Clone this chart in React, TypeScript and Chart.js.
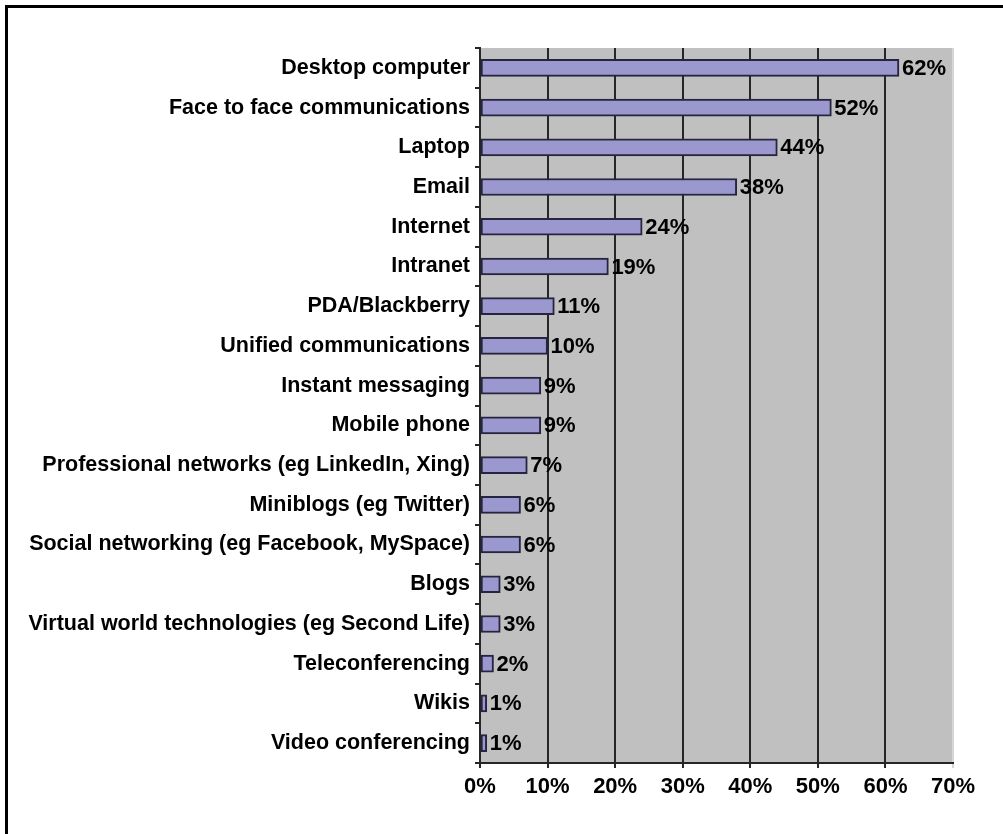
import React, { useEffect, useRef } from "react";
import { Chart, registerables } from "chart.js";

Chart.register(...registerables);

const categories = [
  "Desktop computer",
  "Face to face communications",
  "Laptop",
  "Email",
  "Internet",
  "Intranet",
  "PDA/Blackberry",
  "Unified communications",
  "Instant messaging",
  "Mobile phone",
  "Professional networks (eg LinkedIn, Xing)",
  "Miniblogs (eg Twitter)",
  "Social networking (eg Facebook, MySpace)",
  "Blogs",
  "Virtual world technologies (eg Second Life)",
  "Teleconferencing",
  "Wikis",
  "Video conferencing",
];

const values = [62, 52, 44, 38, 24, 19, 11, 10, 9, 9, 7, 6, 6, 3, 3, 2, 1, 1];

const xTicks = [0, 10, 20, 30, 40, 50, 60, 70];

const FONT = "'Liberation Sans', Arial, Helvetica, sans-serif";

const backgroundPlugin = {
  id: "bgFrame",
  beforeDraw(chart: any) {
    const { ctx, chartArea } = chart;
    ctx.save();
    ctx.fillStyle = "#ffffff";
    ctx.fillRect(0, 0, chart.width, chart.height);
    ctx.fillStyle = "#000000";
    ctx.fillRect(5, 5, chart.width - 5, 3);
    ctx.fillRect(5, 5, 3, chart.height - 5);
    ctx.fillStyle = "#c0c0c0";
    ctx.fillRect(
      chartArea.left,
      chartArea.top,
      chartArea.right - chartArea.left,
      chartArea.bottom - chartArea.top
    );
    ctx.restore();
  },
};

const valueLabelPlugin = {
  id: "valueLabels",
  afterDatasetsDraw(chart: any) {
    const { ctx } = chart;
    const meta = chart.getDatasetMeta(0);
    ctx.save();
    ctx.fillStyle = "#000000";
    ctx.font = `bold 22px ${FONT}`;
    ctx.textAlign = "left";
    ctx.textBaseline = "middle";
    meta.data.forEach((bar: any, i: number) => {
      ctx.fillText(`${values[i]}%`, bar.x + 3, bar.y + 1);
    });
    ctx.restore();
  },
};

export default function App() {
  const canvasRef = useRef<HTMLCanvasElement | null>(null);

  useEffect(() => {
    if (!canvasRef.current) return;
    const chart = new Chart(canvasRef.current, {
      type: "bar",
      data: {
        labels: categories,
        datasets: [
          {
            data: values,
            backgroundColor: "#9b98cf",
            borderColor: "#26243e",
            borderWidth: 2,
            borderSkipped: false,
            barThickness: 17,
          },
        ],
      },
      options: {
        indexAxis: "y",
        responsive: false,
        animation: false,
        devicePixelRatio: 1,
        layout: { padding: { left: 0, top: 48, right: 50, bottom: 0 } },
        plugins: {
          legend: { display: false },
          tooltip: { enabled: false },
        },
        scales: {
          x: {
            min: 0,
            max: 70,
            afterFit(scale: any) {
              scale.height = 71;
            },
            afterBuildTicks(scale: any) {
              scale.ticks = xTicks.map((v) => ({ value: v }));
            },
            ticks: {
              color: "#000000",
              font: { family: FONT, size: 22, weight: "bold" },
              padding: 6,
              maxRotation: 0,
              callback: (v: any) => `${v}%`,
            },
            grid: {
              color: (c: any) => (c.tick && c.tick.value === 70 ? "#d6d6d6" : "#262626"),
              lineWidth: 2,
              tickLength: 5,
              drawTicks: true,
            },
            border: { color: "#262626", width: 2 },
          },
          y: {
            afterFit(scale: any) {
              scale.width = 480;
            },
            ticks: {
              color: "#000000",
              font: { family: FONT, size: 21.5, weight: "bold" },
              padding: 5,
              autoSkip: false,
            },
            grid: {
              drawOnChartArea: false,
              color: "#262626",
              lineWidth: 2,
              tickLength: 5,
            },
            border: { color: "#262626", width: 2 },
          },
        },
      },
      plugins: [backgroundPlugin, valueLabelPlugin],
    });
    return () => chart.destroy();
  }, []);

  return (
    <div style={{ position: "absolute", left: 0, top: 0, width: 1003, height: 834 }}>
      <canvas ref={canvasRef} width={1003} height={834} style={{ width: 1003, height: 834 }} />
    </div>
  );
}
